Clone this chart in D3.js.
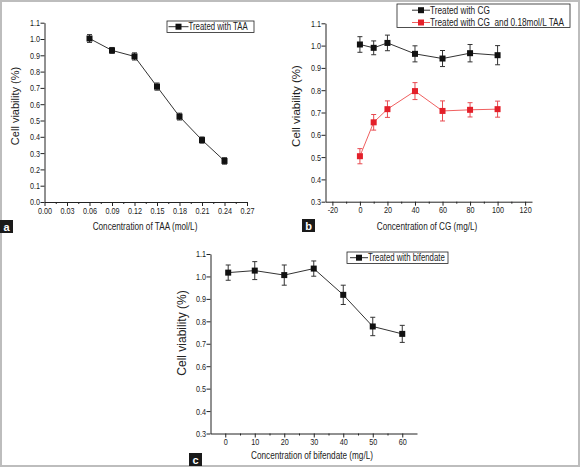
<!DOCTYPE html>
<html><head><meta charset="utf-8">
<script src="https://cdn.jsdelivr.net/npm/d3@7"></script>
<style>
html,body{margin:0;padding:0;background:#fff;}
svg{display:block;}
.tick text{font-family:"Liberation Sans",Arial,sans-serif;font-size:9.3px;fill:#222;}
.reg{font-family:"Liberation Sans",Arial,sans-serif;fill:#222;}
</style>
</head><body>
<svg id="chart" width="581" height="468"></svg>
<script>
// ---- Panel a: Treated with TAA ----
const aConc = [0.06, 0.09, 0.12, 0.15, 0.18, 0.21, 0.24];
const aViab = [1.003, 0.930, 0.893, 0.708, 0.524, 0.380, 0.252];
const aErr  = [0.024, 0.018, 0.022, 0.022, 0.021, 0.019, 0.020];
const aXTicks = [0.00, 0.03, 0.06, 0.09, 0.12, 0.15, 0.18, 0.21, 0.24, 0.27];
const aYTicks = [0.0, 0.1, 0.2, 0.3, 0.4, 0.5, 0.6, 0.7, 0.8, 0.9, 1.0, 1.1];

// ---- Panel b: CG ----
const bConc = [0, 10, 20, 40, 60, 80, 100];
const bCG      = [1.005, 0.990, 1.012, 0.963, 0.942, 0.966, 0.957];
const bCGErr   = [0.035, 0.031, 0.035, 0.036, 0.036, 0.039, 0.043];
const bCGTAA    = [0.504, 0.656, 0.715, 0.796, 0.707, 0.712, 0.715];
const bCGTAAErr = [0.034, 0.035, 0.037, 0.038, 0.045, 0.032, 0.036];
const bXTicks = [-20, 0, 20, 40, 60, 80, 100, 120];
const bYTicks = [0.3, 0.4, 0.5, 0.6, 0.7, 0.8, 0.9, 1.0, 1.1];

// ---- Panel c: bifendate ----
const cConc = [1, 10, 20, 30, 40, 50, 60];
const cViab = [1.017, 1.026, 1.006, 1.035, 0.918, 0.777, 0.744];
const cErr  = [0.034, 0.040, 0.045, 0.034, 0.043, 0.041, 0.038];
const cXTicks = [0, 10, 20, 30, 40, 50, 60];
const cYTicks = [0.3, 0.4, 0.5, 0.6, 0.7, 0.8, 0.9, 1.0, 1.1];

const svg = d3.select("#chart");
const BLACK = "#111", RED = "#e3202a";
const SX = 0.78; // horizontal condensing of text (narrow font look)

// outer frame
svg.append("rect").attr("x",1).attr("y",1).attr("width",578).attr("height",465)
  .attr("fill","none").attr("stroke","#bdbdbd").attr("stroke-width",2);

function narrowText(g, x, y, str, size, anchor){
  return g.append("text").attr("class","reg").attr("font-size",size)
    .attr("transform",`translate(${x},${y}) scale(${SX},1)`)
    .attr("text-anchor",anchor).attr("dominant-baseline","central")
    .attr("xml:space","preserve").style("white-space","pre").text(str);
}

function panel(o){
  const g = svg.append("g");
  const x = d3.scaleLinear().domain(o.xDomain).range(o.xRange);
  const y = d3.scaleLinear().domain(o.yDomain).range(o.yRange);
  const y0 = o.yRange[0], x0 = o.xRange[0];

  // minor x ticks
  const minors = [];
  for(let i=0;i<o.xTicks.length-1;i++) minors.push((o.xTicks[i]+o.xTicks[i+1])/2);
  g.append("g").attr("transform",`translate(0,${y0})`)
    .call(d3.axisBottom(x).tickValues(minors).tickSize(2).tickSizeOuter(0).tickFormat(""))
    .call(s=>s.select(".domain").remove())
    .selectAll("line").attr("stroke","#222");

  const xa = g.append("g").attr("transform",`translate(0,${y0})`)
    .call(d3.axisBottom(x).tickValues(o.xTicks).tickSize(4).tickSizeOuter(0).tickPadding(1).tickFormat(o.xFmt));
  xa.select(".domain").attr("stroke","#222");
  xa.selectAll("line").attr("stroke","#222");
  xa.selectAll(".tick text").attr("transform",`scale(${SX},1)`);

  const ya = g.append("g").attr("transform",`translate(${x0},0)`)
    .call(d3.axisLeft(y).tickValues(o.yTicks).tickSize(4).tickSizeOuter(0).tickPadding(0).tickFormat(d3.format(".1f")));
  ya.select(".domain").attr("stroke","#222");
  ya.selectAll("line").attr("stroke","#222");
  ya.selectAll(".tick text").attr("x",0).attr("transform",`translate(-4.5,0) scale(${SX},1)`);

  // axis titles
  narrowText(g, o.xTitlePos[0], o.xTitlePos[1], o.xTitle, 10.5, "middle");
  g.append("text").attr("class","reg").attr("font-size",o.yTitleSize)
    .attr("transform",`translate(${o.yTitlePos[0]},${o.yTitlePos[1]}) rotate(-90)`)
    .attr("text-anchor","middle").attr("dominant-baseline","central").text("Cell viability (%)");

  // series
  o.series.forEach(s=>{
    const pts = o.xs.map((v,i)=>({x:v,y:s.vals[i],e:s.errs[i]}));
    g.append("path").datum(pts).attr("fill","none").attr("stroke",s.line).attr("stroke-width",1)
      .attr("d",d3.line().x(d=>x(d.x)).y(d=>y(d.y)));
    const eb = g.append("g").attr("stroke",s.err).attr("stroke-width",1);
    pts.forEach(d=>{
      eb.append("line").attr("x1",x(d.x)).attr("x2",x(d.x)).attr("y1",y(d.y-d.e)).attr("y2",y(d.y+d.e));
      eb.append("line").attr("x1",x(d.x)-2.5).attr("x2",x(d.x)+2.5).attr("y1",y(d.y-d.e)).attr("y2",y(d.y-d.e));
      eb.append("line").attr("x1",x(d.x)-2.5).attr("x2",x(d.x)+2.5).attr("y1",y(d.y+d.e)).attr("y2",y(d.y+d.e));
    });
    g.selectAll(null).data(pts).enter().append("rect")
      .attr("x",d=>x(d.x)-3).attr("y",d=>y(d.y)-3).attr("width",6).attr("height",6).attr("fill",s.color);
  });

  // legend
  const L = o.legend;
  g.append("rect").attr("x",L.box[0]).attr("y",L.box[1]).attr("width",L.box[2]).attr("height",L.box[3])
    .attr("fill","#fff").attr("stroke","#222").attr("stroke-width",0.8);
  L.items.forEach((it,i)=>{
    const ly = L.rows[i];
    g.append("line").attr("x1",L.lx[0]).attr("x2",L.lx[1]).attr("y1",ly).attr("y2",ly).attr("stroke",it.line).attr("stroke-width",1);
    g.append("rect").attr("x",(L.lx[0]+L.lx[1])/2-3).attr("y",ly-3).attr("width",6).attr("height",6).attr("fill",it.color);
    narrowText(g, L.lx[1], ly, it.label, L.size, "start");
  });

  // panel letter
  g.append("rect").attr("x",o.tag[0]).attr("y",o.tag[1]).attr("width",13).attr("height",13).attr("fill","#1a1a1a");
  g.append("text").attr("class","reg").attr("x",o.tag[0]+6.5).attr("y",o.tag[1]+7).attr("text-anchor","middle")
    .attr("dominant-baseline","central").attr("font-size",11).attr("font-weight","bold").style("fill","#fff").text(o.tagText);
}

const intFmt = d => String(d); // plain hyphen minus like the original

panel({
  xDomain:[0,0.27], xRange:[44.5,247], yDomain:[0,1.1], yRange:[202,22.7],
  xTicks:aXTicks, yTicks:aYTicks, xFmt:d3.format(".2f"),
  xTitle:"Concentration of TAA (mol/L)", xTitlePos:[145,226],
  yTitlePos:[15,106], yTitleSize:11,
  xs:aConc,
  series:[{vals:aViab, errs:aErr, color:BLACK, line:"#333", err:"#333"}],
  legend:{box:[167,21,87,11.5], lx:[168.5,188.5], rows:[26.7], size:10,
    items:[{label:"Treated with TAA", color:BLACK, line:"#333"}]},
  tag:[0,220], tagText:"a"
});

panel({
  xDomain:[-25,125], xRange:[325.5,532], yDomain:[0.3,1.1], yRange:[201.7,23.3],
  xTicks:bXTicks, yTicks:bYTicks, xFmt:intFmt,
  xTitle:"Concentration of CG (mg/L)", xTitlePos:[427,226],
  yTitlePos:[296,106], yTitleSize:11.5,
  xs:bConc,
  series:[
    {vals:bCG, errs:bCGErr, color:BLACK, line:"#333", err:"#333"},
    {vals:bCGTAA, errs:bCGTAAErr, color:RED, line:"#f06060", err:"#e84a50"}
  ],
  legend:{box:[397,4,173,23.5], lx:[412,430], rows:[10.2,22.5], size:10.6,
    items:[{label:"Treated with CG", color:BLACK, line:"#333"},
           {label:"Treated with CG  and 0.18mol/L TAA", color:RED, line:"#f06060"}]},
  tag:[302,219], tagText:"b"
});

panel({
  xDomain:[-5,65], xRange:[210.5,417], yDomain:[0.3,1.1], yRange:[433.5,254],
  xTicks:cXTicks, yTicks:cYTicks, xFmt:intFmt,
  xTitle:"Concentration of bifendate (mg/L)", xTitlePos:[312,455],
  yTitlePos:[182,333], yTitleSize:12,
  xs:cConc,
  series:[{vals:cViab, errs:cErr, color:BLACK, line:"#333", err:"#333"}],
  legend:{box:[347,252,101,11.5], lx:[350,368], rows:[257.7], size:10,
    items:[{label:"Treated with bifendate", color:BLACK, line:"#333"}]},
  tag:[189,453], tagText:"c"
});
</script>
</body></html>
